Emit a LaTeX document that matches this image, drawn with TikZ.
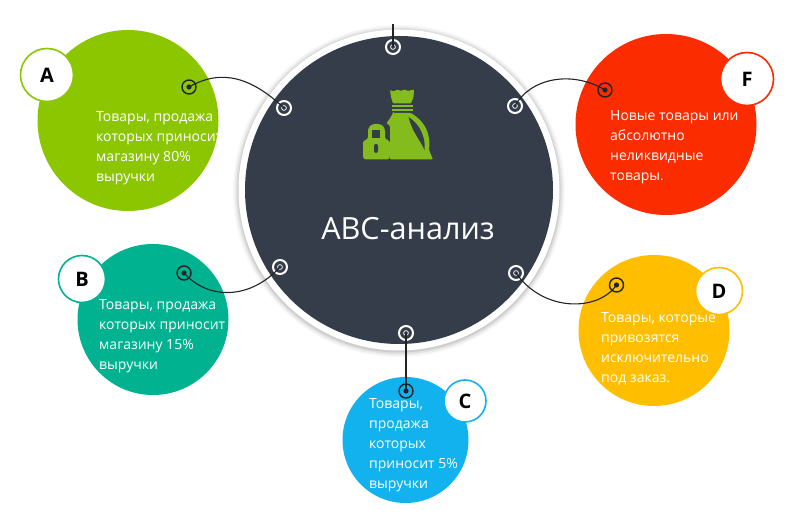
\documentclass[tikz,border=0pt]{standalone}
\usepackage{fontspec}
\setmainfont{Open Sans}
\definecolor{dark}{HTML}{353D4A}
\definecolor{cA}{HTML}{8CC600}
\definecolor{cB}{HTML}{00B290}
\definecolor{cC}{HTML}{12B2EE}
\definecolor{cD}{HTML}{FFBE00}
\definecolor{cF}{HTML}{FA2C00}
\definecolor{icon}{HTML}{84BC1E}
\definecolor{wire}{HTML}{202428}
\tikzset{
  x=1pt,y=-1pt,
  blob/.style={circle,inner sep=0pt,minimum size=#1},
  badge/.style 2 args={circle,fill=white,draw=#1,line width=1.6pt,inner sep=0pt,minimum size=#2,font=\fontsize{20}{20}\selectfont\bfseries,text=black},
  txt/.style={anchor=north west,align=left,text=white,inner sep=0pt,font=\fontsize{14}{20}\selectfont},
  port/.style={circle,draw=white,line width=2pt,inner sep=0pt,minimum size=14pt},
  target/.style={circle,draw=wire,line width=1.4pt,inner sep=0pt,minimum size=14pt},
  wireline/.style={draw=wire,line width=1.1pt},
}
\begin{document}
\begin{tikzpicture}
\useasboundingbox (0,0) rectangle (807,526);
\fill[white] (0,0) rectangle (807,526);
% coloured discs
\node[blob=181pt,fill=cA] (A) at (128,120.5) {};
\node[blob=181pt,fill=cF] (F) at (666,124.5) {};
\node[blob=151pt,fill=cD] (D) at (654,330.5) {};
\node[blob=151pt,fill=cB] (B) at (153,319.5) {};
\node[blob=126pt,fill=cC] (C) at (405.5,440) {};
% central disc with soft shadow
\foreach \r/\o in {166/0.03,164.5/0.04,163/0.06,161.5/0.08}
  \fill[black,opacity=\o] (399,191) circle (\r);
\node[blob=321pt,fill=white] (ring) at (399,190) {};
\node[blob=308pt,fill=dark] (hub) at (399,190) {};
% ports
\node[port] (pT) at (393,47) {};
\node[port] (pA) at (284,108) {};
\node[port] (pF) at (515,106) {};
\node[port] (pD) at (516,273) {};
\node[port] (pB) at (280,267) {};
\node[port] (pC) at (406,333) {};
\foreach \p in {pT,pA,pF,pD,pB,pC}
  \draw[white,line width=0.7pt] (\p.center) circle (2.4);
% targets
\node[target] (tA) at (189,87) {};
\node[target] (tF) at (605,90) {};
\node[target] (tD) at (616.5,285) {};
\node[target] (tB) at (184,273) {};
\node[target] (tC) at (406,391) {};
\foreach \p in {tA,tF,tD,tB,tC}
  \fill[wire] (\p.center) circle (2.6);
\coordinate (top) at (393,24);
% connectors
\draw[wireline] (tA.center) .. controls (222,68) and (252,78) .. (pA.center);
\draw[wireline] (pF.center) .. controls (530,78) and (572,70) .. (tF.center);
\draw[wireline] (pD.center) .. controls (543,312) and (598,312) .. (tD.center);
\draw[wireline] (tB.center) .. controls (208,300) and (250,300) .. (pB.center);
\draw[wireline] (pC.center) -- (tC.center);
\draw[wireline] (top) -- (pT.center);
% badges
\node[badge={cA}{53pt}] (bA) at (47,75) {A};
\node[badge={cF}{53pt}] (bF) at (747,79) {F};
\node[badge={cD}{47pt}] (bD) at (719,291) {D};
\node[badge={cB}{47pt}] (bB) at (82,279) {B};
\node[badge={cC}{42pt}] (bC) at (465,401) {C};
% texts
\node[txt] (xA) at (96,111.5) {Товары, продажа\\которых\ приносит\\магазину 80\%\\выручки};
\node[txt] (xF) at (610,110.5) {Новые товары или\\абсолютно\\неликвидные\\товары.};
\node[txt] (xD) at (601,312.5) {Товары, которые\\привозятся\\исключительно\\под заказ.};
\node[txt] (xB) at (99,299.5) {Товары, продажа\\которых\ приносит\\магазину 15\%\\выручки};
\node[txt] (xC) at (369,398.5) {Товары,\\продажа\\которых\\приносит 5\%\\выручки};
\node[text=white,font=\fontsize{30.6}{32}\selectfont] (title) at (408,229) {АВС-анализ};
% icon: money bag
\fill[icon,rounded corners=1pt] (390,90) -- (394,91.5) -- (397,89.5) -- (401,91) -- (404.5,89.5) -- (408,91) -- (414,89.5) -- (413.5,97) -- (411,103.5) -- (393,103.5) -- (391,97) -- cycle;
\fill[icon] (391.5,105) rectangle (412.5,107.5);
\fill[icon] (391.5,109) rectangle (412.5,111.5);
\fill[icon,rounded corners=1pt] (393,113) -- (411,113) .. controls (422,120) and (431,130) .. (429,150) -- (433,159.5) -- (390,159.5) -- (390,126) -- (386.5,123) .. controls (389,120) and (391,117) .. (393,113) -- cycle;
\fill[dark] (408.5,117) .. controls (420,124) and (426,138) .. (424.5,150) .. controls (421,141) and (412,132) .. (408.5,117) -- cycle;
% icon: padlock
\fill[icon,rounded corners=3pt] (363,140) -- (368,140) -- (368,128) -- (372,124) -- (381,124) -- (385,128) -- (385,140) -- (390,140) -- (390,159.5) -- (363,159.5) -- cycle;
\fill[dark] (372,130) rectangle (380,138);
\fill[dark,rounded corners=1.5pt] (374,144) rectangle (378,153);
\end{tikzpicture}
\end{document}
